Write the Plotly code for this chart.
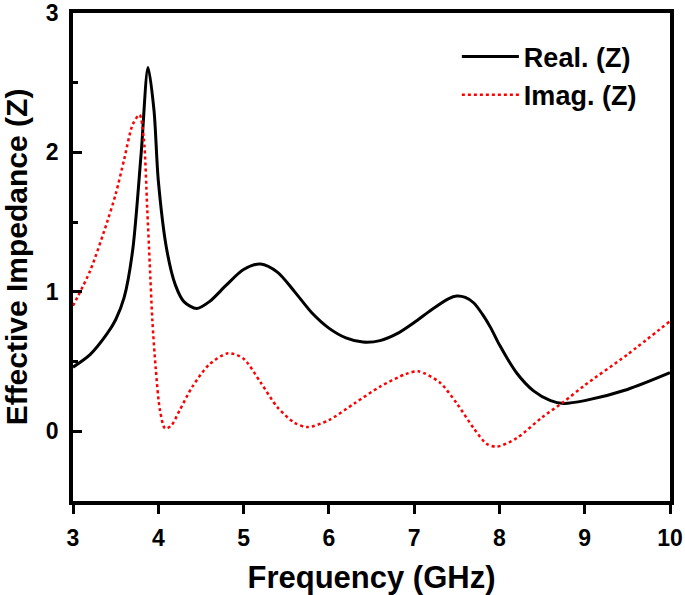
import plotly.graph_objects as go

# Real part of effective impedance
real_freq = [3.0, 3.2, 3.4, 3.5, 3.6, 3.7, 3.8, 3.88, 3.95, 4.0, 4.1, 4.2, 4.3, 4.45, 4.6, 4.8, 5.0, 5.2,
             5.4, 5.6, 5.8, 6.0, 6.2, 6.4, 6.6, 6.8, 7.0, 7.2, 7.4, 7.5, 7.6, 7.7, 7.8, 7.9, 8.0, 8.2, 8.4,
             8.6, 8.75, 9.0, 9.5, 10.0]
real_z = [0.46, 0.55, 0.70, 0.80, 0.96, 1.30, 2.00, 2.61, 2.30, 1.80, 1.30, 1.05, 0.93, 0.88, 0.93, 1.05,
          1.16, 1.20, 1.14, 1.00, 0.85, 0.74, 0.67, 0.64, 0.65, 0.70, 0.78, 0.87, 0.95, 0.97, 0.96, 0.92,
          0.84, 0.74, 0.62, 0.42, 0.29, 0.22, 0.20, 0.22, 0.30, 0.42]

# Imaginary part of effective impedance
imag_freq = [3.0, 3.2, 3.4, 3.5, 3.6, 3.7, 3.78, 3.83, 3.87, 3.9, 3.93, 3.97, 4.02, 4.08, 4.15, 4.25, 4.4,
             4.6, 4.82, 5.0, 5.2, 5.4, 5.6, 5.75, 6.0, 6.3, 6.6, 6.9, 7.05, 7.3, 7.5, 7.7, 7.85, 7.97,
             8.2, 8.5, 8.75, 9.0, 9.5, 10.0]
imag_z = [0.90, 1.15, 1.50, 1.70, 1.95, 2.20, 2.27, 2.10, 1.60, 1.20, 0.80, 0.45, 0.15, 0.02, 0.04, 0.15,
          0.32, 0.48, 0.56, 0.52, 0.35, 0.17, 0.06, 0.03, 0.08, 0.20, 0.32, 0.41, 0.43, 0.35, 0.20, 0.02,
          -0.09, -0.11, -0.05, 0.10, 0.21, 0.33, 0.55, 0.79]

x_ticks = [3, 4, 5, 6, 7, 8, 9, 10]
y_ticks = [0, 1, 2, 3]

FONT = "Liberation Sans"

fig = go.Figure()
fig.add_trace(go.Scatter(x=real_freq, y=real_z, mode="lines", name="Real. (Z)",
                         line=dict(color="black", width=3, shape="spline", smoothing=0.8)))
fig.add_trace(go.Scatter(x=imag_freq, y=imag_z, mode="lines", name="Imag. (Z)",
                         line=dict(color="#ff0000", width=2.5, dash="dot", shape="spline", smoothing=0.8)))

fig.update_layout(
    width=685, height=595,
    margin=dict(l=73, r=15, t=13, b=94),
    paper_bgcolor="white", plot_bgcolor="white",
    font=dict(family=FONT, color="black"),
    showlegend=True,
    legend=dict(x=0.643, y=0.96, xanchor="left", yanchor="top",
                font=dict(family=FONT, size=27, color="black", weight="bold"),
                bgcolor="rgba(0,0,0,0)", itemwidth=57, tracegroupgap=0),
)
fig.update_xaxes(
    range=[3, 10], tickvals=x_ticks, ticktext=[str(v) for v in x_ticks],
    automargin=False, ticklabeloverflow="allow", ticklabelstandoff=5,
    showgrid=False, zeroline=False,
    showline=True, linecolor="black", linewidth=3.5, mirror=True,
    ticks="outside", ticklen=9, tickwidth=3, tickcolor="black",
    tickfont=dict(family=FONT, size=23, color="black", weight="bold"),
    title=dict(text="Frequency (GHz)", font=dict(family=FONT, size=31, color="black", weight="bold"), standoff=20),
)
fig.update_yaxes(
    range=[-0.5, 3], tickvals=y_ticks, ticktext=[str(v) for v in y_ticks],
    automargin=False, ticklabeloverflow="allow", ticklabelstandoff=6,
    showgrid=False, zeroline=False,
    showline=True, linecolor="black", linewidth=3.5, mirror=True,
    ticks="inside", ticklen=9, tickwidth=3, tickcolor="black",
    minor=dict(dtick=0.5, tick0=0, ticks="inside", ticklen=5, tickwidth=3, tickcolor="black"),
    tickfont=dict(family=FONT, size=23, color="black", weight="bold"),
    title=dict(text="Effective Impedance (Z)", font=dict(family=FONT, size=30, color="black", weight="bold"), standoff=22),
)

# remove the browser's default page margin so the figure sits at the window's corner
fig.write_html("out.html", config={"displayModeBar": False},
               post_script="document.body.style.margin='0';")
